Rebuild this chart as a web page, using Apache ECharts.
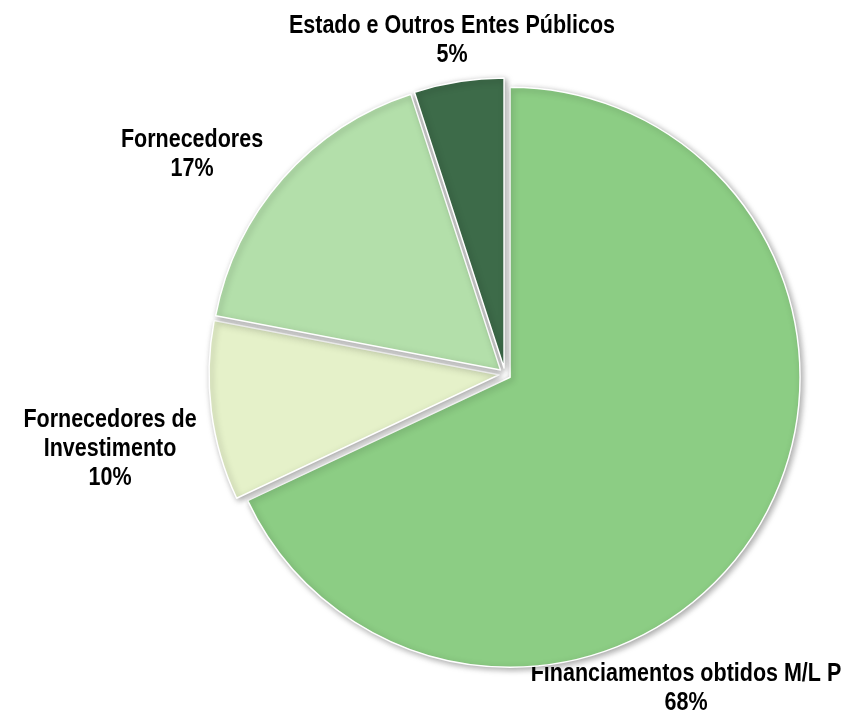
<!DOCTYPE html>
<html>
<head>
<meta charset="utf-8">
<script src="https://cdn.jsdelivr.net/npm/echarts@6/dist/echarts.min.js"></script>
<style>
html,body{margin:0;padding:0;background:#fff;}
#chart{width:846px;height:717px;}
</style>
</head>
<body>
<div id="chart"></div>
<script>
const categories = ['Financiamentos obtidos M/L P', 'Fornecedores de\nInvestimento', 'Fornecedores', 'Estado e Outros Entes Públicos'];
const values = [68, 10, 17, 5];
const colors = ['#8CCD84', '#E5F1C9', '#B3DFAA', '#3D6B49'];

const labelPos = [[686, 689], [110, 449], [192, 155], [452, 41]];

const total = values.reduce((a, b) => a + b, 0);

const chart = echarts.init(document.getElementById('chart'), null, {renderer: 'canvas'});
chart.setOption({
  animation: false,
  graphic: categories.map((c, i) => ({
    type: 'text',
    x: labelPos[i][0],
    y: labelPos[i][1],
    scaleX: 0.86,
    silent: true,
    style: {
      text: c + '\n' + Math.round(values[i] / total * 100) + '%',
      fontFamily: '"Liberation Sans", Arial, sans-serif',
      fontWeight: 'bold',
      fontSize: 25,
      lineHeight: 29,
      fill: '#000',
      align: 'center',
      verticalAlign: 'middle'
    }
  })),
  series: [{
    type: 'pie',
    center: [505, 374],
    radius: 290,
    startAngle: 90,
    clockwise: true,
    selectedMode: 'multiple',
    selectedOffset: 6,
    avoidLabelOverlap: false,
    itemStyle: {
      borderColor: '#ffffff',
      borderWidth: 1.5,
      shadowBlur: 6,
      shadowColor: 'rgba(0,0,0,0.35)',
      shadowOffsetX: 2,
      shadowOffsetY: 2
    },
    label: {show: false},
    labelLine: {show: false},
    emphasis: {disabled: true},
    data: categories.map((c, i) => ({
      name: c,
      value: values[i],
      selected: true,
      itemStyle: {color: colors[i]}
    }))
  }]
});
</script>
</body>
</html>
